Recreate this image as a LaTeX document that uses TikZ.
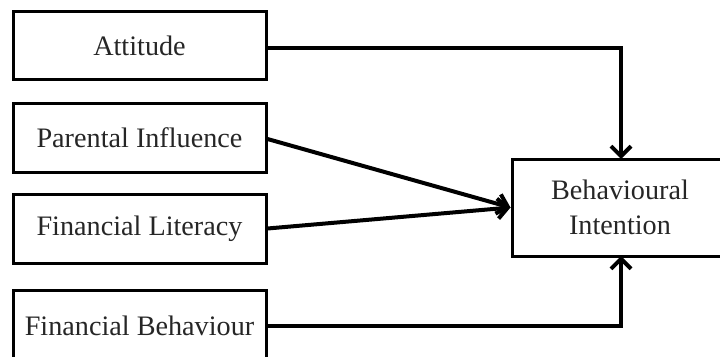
\documentclass[tikz,border=0pt]{standalone}
\usepackage{fontspec}
\setmainfont{Liberation Serif}
\usetikzlibrary{arrows.meta}
\begin{document}
\begin{tikzpicture}[x=1pt,y=-1pt,
  box/.style={draw, line width=3pt, rectangle, inner sep=0pt, align=center,
    font=\fontsize{28.2}{35}\selectfont, text=black!85},
  conn/.style={line width=4pt, -{Straight Barb[length=10pt,width=20pt,line width=4pt]}}]
\useasboundingbox (0,0) rectangle (720,356);
\clip (0,0) rectangle (720,356);
\node[box, minimum width=253pt, minimum height=68pt] (att) at (139.5,45.5) {Attitude};
\node[box, minimum width=253pt, minimum height=69pt] (par) at (139.5,137.5) {Parental Influence};
\node[box, minimum width=253pt, minimum height=69pt] (lit) at (139.5,228.5) {Financial Literacy};
\node[box, minimum width=253pt, minimum height=72pt] (beh) at (139.5,326) {Financial Behaviour};
\node[box, minimum width=216pt, minimum height=97pt] (bi) at (620,207.5) {Behavioural\\Intention};
\coordinate (bin) at (621,159);
\coordinate (bis) at (621,256);
\draw[conn] ([yshift=-2.5pt]att.east) -| (bin);
\draw[conn] ([yshift=-1.5pt]par.east) -- (bi.west);
\draw[conn] (lit.east) -- (bi.west);
\draw[conn] (beh.east) -| (bis);
\end{tikzpicture}
\end{document}
